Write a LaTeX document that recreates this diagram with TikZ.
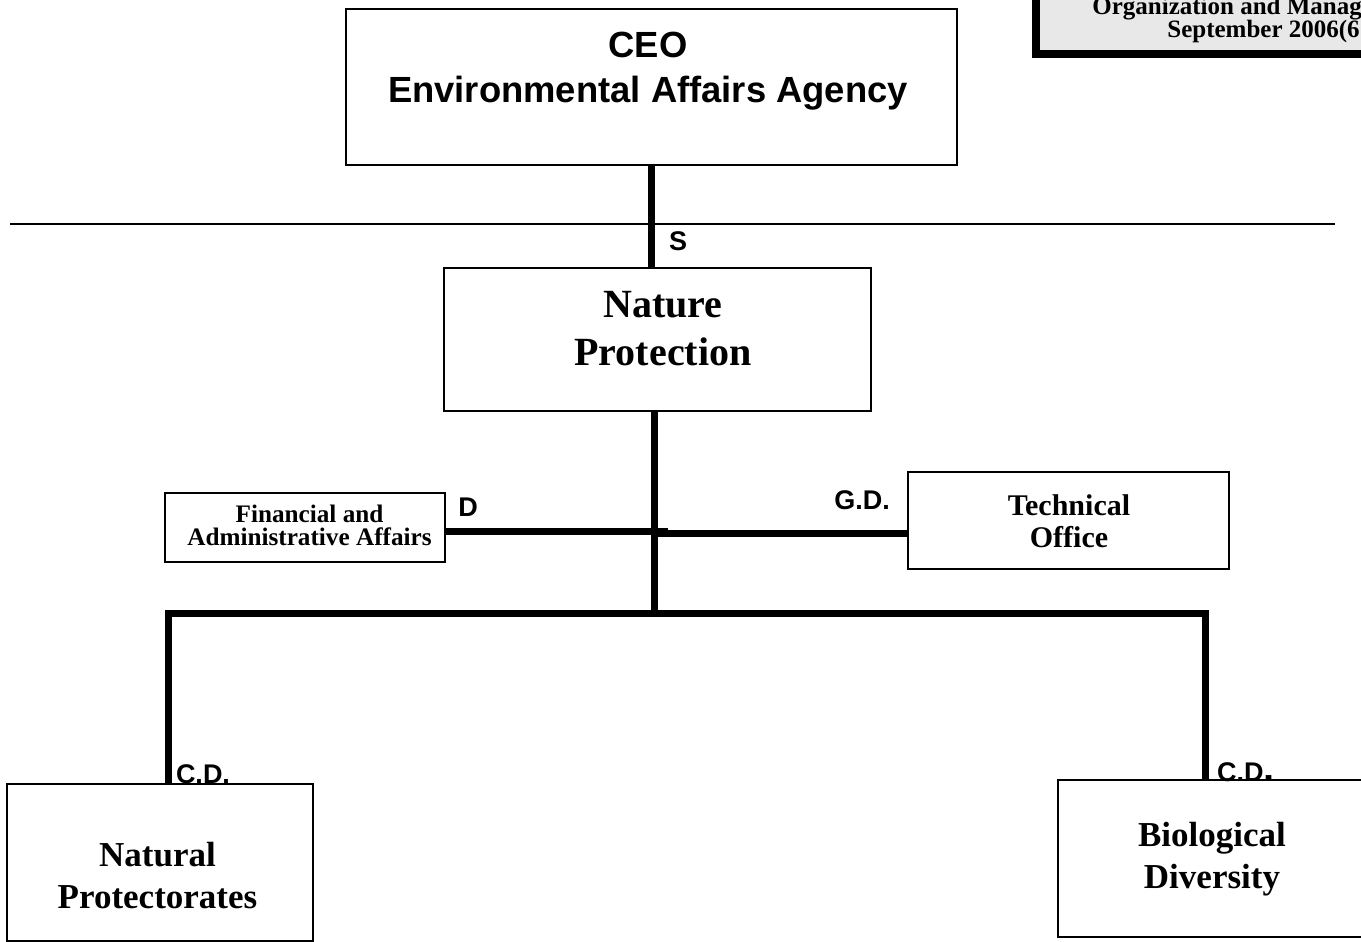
\documentclass[tikz,border=0pt]{standalone}
\usepackage{fontspec}
\setmainfont{Liberation Serif}
\setsansfont{Liberation Sans}
\usetikzlibrary{calc}
\usetikzlibrary{positioning}

\begin{document}
\begin{tikzpicture}[x=0.5pt,y=-0.5pt]
% 1 = 1px of the chart
    \def\SPINEX{654}
    \def\BUSY{613}
    \def\BUSLEFT{168}
    \def\BUSRIGHT{1205}
    \def\RULEY{224}

    \tikzset{
      unitbox/.style={draw,line width=1pt,inner sep=0pt,fill=white},
      link/.style={line width=3.5pt},
      boxtext/.style={align=center,inner sep=0pt},
      rank/.style={inner sep=0pt,font=\sffamily\bfseries\fontsize{13.5}{14}\selectfont},
    }

    \clip (0,0) rectangle (1361,942);

    % NOTE corner
    \draw [line width=4pt,fill=gray!18] (1036,-20) rectangle (1380,54);
    \node[anchor=base west,inner sep=0pt,font=\bfseries\fontsize{12.5}{12.5}\selectfont]
        (notea) at (1092,15) {Organization and Manag};
    \node[anchor=base west,inner sep=0pt,font=\bfseries\fontsize{12.5}{12.5}\selectfont]
        (noteb) at (1167,38) {September 2006(6};

    % LEVEL rule
    \coordinate (ruleL) at (10,\RULEY);
    \coordinate (ruleR) at (1335,\RULEY);
    \draw [line width=0.7pt] (ruleL) -- (ruleR);

    % TOP box
    \node[unitbox,minimum width=305.5pt,minimum height=78pt] (ceo) at (651.5,87) {};
    \node[boxtext,font=\sffamily\bfseries\fontsize{18.2}{22.5}\selectfont]
        (ceotext) at (648,71) {CEO\\Environmental Affairs Agency};

    % SECTOR box
    \node[unitbox,minimum width=213.5pt,minimum height=71.5pt] (nature) at (657.5,339.5) {};
    \node[boxtext,font=\bfseries\fontsize{20}{24}\selectfont]
        (naturetext) at (663,329) {Nature\\Protection};

    % SIDE boxes
    \node[unitbox,minimum width=140pt,minimum height=34.5pt] (fin) at (305,527.5) {};
    \node[boxtext,font=\bfseries\fontsize{12.6}{11.5}\selectfont]
        (fintext) at (309.5,525.5) {Financial and\\Administrative Affairs};
    \node[unitbox,minimum width=160.5pt,minimum height=48.5pt] (tech) at (1068.5,520.5) {};
    \node[boxtext,font=\bfseries\fontsize{15}{16}\selectfont]
        (techtext) at (1069,521) {Technical\\Office};

    % LOWER boxes
    \node[unitbox,minimum width=153pt,minimum height=78.5pt] (natural) at (160,862.5) {};
    \node[boxtext,font=\bfseries\fontsize{17.5}{21}\selectfont]
        (naturaltext) at (157.5,876) {Natural\\Protectorates};
    \node[unitbox,minimum width=154pt,minimum height=78.5pt] (bio) at (1212,858.5) {};
    \node[boxtext,font=\bfseries\fontsize{17.5}{21}\selectfont]
        (biotext) at (1212,859) {Biological\\Diversity};

    % LINKS
    \coordinate (hub) at (\SPINEX,\BUSY);
    \coordinate (finend) at (668,531);
    \coordinate (techend) at (\SPINEX,533);
    \coordinate (busL) at (\BUSLEFT,\BUSY);
    \coordinate (busR) at (\BUSRIGHT,\BUSY);
    \draw [link] (ceo.south) -- (ceo.south |- nature.north);
    \draw [link] (nature.south -| hub) -- (hub);
    \draw [link] (fin.east |- finend) -- (finend);
    \draw [link] (techend) -- (tech.west |- techend);
    \draw [link] (natural.north -| busL) -- (busL) -- (busR) -- (busR |- bio.north);

    % GRADES
    \node[rank] (slabel) at (678,241) {S};
    \node[rank] (dlabel) at (468,507) {D};
    \node[rank] (gdlabel) at (862,500) {G.D.};
    \node[rank] (cdleft) at (203,774) {C.D.};
    \node[rank] (cdright) at (1246,772) {C.D{\fontsize{20}{20}\selectfont.}};

\end{tikzpicture}
\end{document}
